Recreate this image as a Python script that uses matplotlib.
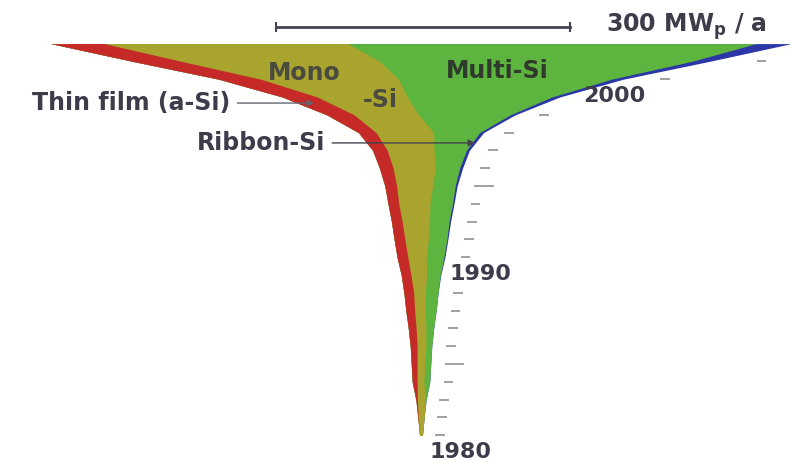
import numpy as np
import matplotlib
matplotlib.use("Agg")
import matplotlib.pyplot as plt

# ---- data (MW_p per year) ----
years = list(range(1981, 2004))
thin_film = [0, 0.5, 1.5, 5, 6, 7, 8, 9, 10, 10, 11, 11, 11, 11, 12, 14, 15, 18, 28, 36, 43, 50, 55]
mono_si = [3, 6, 8, 7, 8, 9, 10, 11, 12, 16, 19, 24, 28, 32, 37, 43, 48, 59, 66, 92, 141, 203, 249]
multi_si = [0, 0, 1, 6, 6, 6, 8, 11, 13, 14, 18, 19, 20, 23, 23, 25, 33, 47, 94, 148, 218, 319, 418]
ribbon_si = [0, 0, 0, 0, 0, 0, 0, 0, 0, 0.5, 1, 1, 1.5, 1.5, 2, 3, 3, 4, 5, 8, 12, 18, 36]
layer_names = ["Thin film (a-Si)", "Mono-Si", "Multi-Si", "Ribbon-Si"]
layer_colors = ["#c62a28", "#a9a42e", "#5db43e", "#2b37a6"]
year_labels = [1980, 1990, 2000]
long_tick_years = [1985, 1995]
scale_mw = 300

plt.rcParams['font.family'] = ['DejaVu Sans']
TXT = "#3c3c4a"
FS = 17

fig = plt.figure(figsize=(7.9, 4.61), dpi=100)
ax = fig.add_axes([0, 0, 1, 1])
px_per_mw = 0.977
ax.set_xlim(-421 / px_per_mw, 369 / px_per_mw)
ax.set_ylim(1980 - 8 / 17.8, 1980 + 453 / 17.8)
ax.axis('off')

y = np.array(years, dtype=float)
stack = np.array([thin_film, mono_si, multi_si, ribbon_si], dtype=float)
total = stack.sum(axis=0)
base = -total / 2.0
bounds = [base]
for row in stack:
    bounds.append(bounds[-1] + row)

# draw from the outermost cumulative layer inward to avoid seams
for i in range(3, -1, -1):
    ax.fill_betweenx(y, bounds[0], bounds[i + 1], color=layer_colors[i],
                     linewidth=0)

right_edge = bounds[-1]

# year ticks on the right of the funnel
tick_years = np.arange(1980, 2003)
for yr in tick_years:
    r = np.interp(yr, y, right_edge, left=right_edge[0])
    tot = np.interp(yr, y, total, left=total[0])
    x0 = r + 13 + 0.06 * tot
    if yr in year_labels:
        ax.text(x0 - 6, yr + 0.05, str(yr), ha='left', va='center',
                fontsize=FS - 1, fontweight='bold', color=TXT)
        continue
    length = 20 if yr in long_tick_years else 10
    ax.plot([x0, x0 + length], [yr, yr], color="#a0a0a0", lw=1.4,
            solid_capstyle='butt')

# scale bar
sb_y = 1980 + 426 / 17.8
sb_x0 = -148
ax.plot([sb_x0, sb_x0 + scale_mw], [sb_y, sb_y], color="#444450", lw=2)
ax.plot([sb_x0, sb_x0 + scale_mw], [sb_y, sb_y], color="#444450", lw=0,
        marker='|', markersize=7, markeredgewidth=1.5)
ax.text(189, sb_y, r"300 MW$_\mathregular{p}$ / a", ha='left', va='center',
        fontsize=FS, fontweight='bold', color=TXT)

# layer labels
ax.text(-119, 2001.35, "Mono", ha='center', va='center', fontsize=FS,
        fontweight='bold', color="#4a4a40")
ax.text(-42, 1999.83, "-Si", ha='center', va='center', fontsize=FS,
        fontweight='bold', color="#4a4a40")
ax.text(78, 2001.46, "Multi-Si", ha='center', va='center', fontsize=FS,
        fontweight='bold', color="#2f3a2c")

# annotations
tf_year = 1999.66
tf_mid = np.interp(tf_year, y, (bounds[0] + bounds[1]) / 2)
ax.annotate("Thin film (a-Si)", xy=(tf_mid, tf_year), xytext=(-195, tf_year),
            ha='right', va='center', fontsize=FS, fontweight='bold', color=TXT,
            arrowprops=dict(arrowstyle='-|>', color="#666670", lw=1,
                            mutation_scale=9, shrinkA=3, shrinkB=0))
rb_year = 1997.42
rb_x = np.interp(rb_year, y, right_edge)
ax.annotate("Ribbon-Si", xy=(rb_x, rb_year), xytext=(-98, rb_year),
            ha='right', va='center', fontsize=FS, fontweight='bold', color=TXT,
            arrowprops=dict(arrowstyle='-|>', color="#444450", lw=1,
                            mutation_scale=10, shrinkA=3, shrinkB=0))

fig.savefig("out.png", dpi=100, facecolor='white')
